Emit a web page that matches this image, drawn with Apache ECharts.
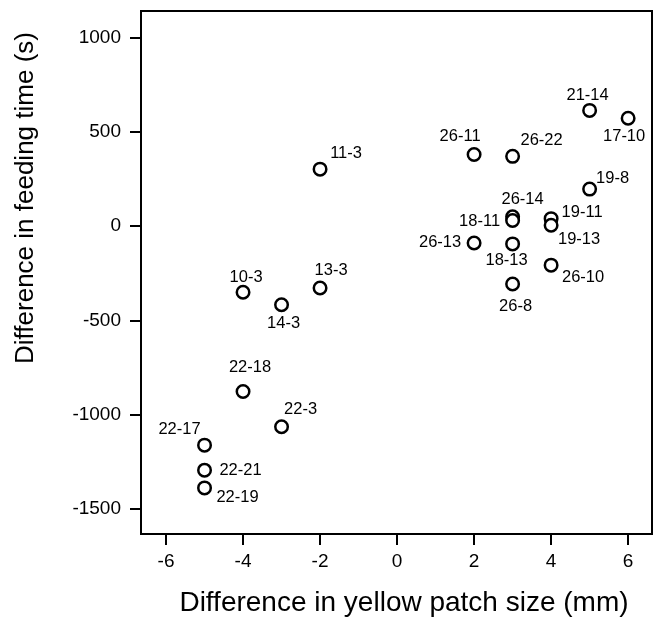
<!DOCTYPE html>
<html>
<head>
<meta charset="utf-8">
<script src="https://cdn.jsdelivr.net/npm/echarts@6/dist/echarts.min.js"></script>
<style>
    html, body { margin: 0; padding: 0; background: #fff; }
    #chart { width: 655px; height: 620px; }
</style>
</head>
<body>
<div id="chart"></div>
<script>
// data
var pairNames = ['21-14', '17-10', '26-11', '26-22', '11-3', '19-8', '26-14', '18-11', '19-11', '19-13', '26-13',
    '18-13', '26-10', '26-8', '10-3', '13-3', '14-3', '22-18', '22-3', '22-17', '22-21', '22-19'];
var patchDiff = [5, 6, 2, 3, -2, 5, 3, 3, 4, 4, 2, 3, 4, 3, -4, -2, -3, -4, -3, -5, -5, -5];
var feedDiff = [615, 573, 381, 371, 303, 197, 50, 30, 40, 5, -89, -94, -207, -307, -351, -328, -417, -878, -1065,
    -1163, -1296, -1390];
var xTicks = [-6, -4, -2, 0, 2, 4, 6];
var yTicks = [-1500, -1000, -500, 0, 500, 1000];

// where each label sits relative to its circle (px)
var labelShift = {
    '21-14': [-2, -15], '17-10': [-4, 18], '26-11': [-14, -18], '26-22': [29, -16], '11-3': [26, -16],
    '19-8': [23, -11], '26-14': [10, -17], '18-11': [-33, 1], '19-11': [31, -6], '19-13': [28, 14],
    '26-13': [-34, 0], '18-13': [-6, 17], '26-10': [32, 12], '26-8': [3, 22], '10-3': [3, -15],
    '13-3': [11, -17], '14-3': [2, 19], '22-18': [7, -24], '22-3': [19, -17], '22-17': [-25, -16],
    '22-21': [36, 0], '22-19': [33, 10]
};

var font = '"Liberation Sans", Arial, sans-serif';

var points = pairNames.map(function (n, i) {
    return {
        name: n,
        value: [patchDiff[i], feedDiff[i]],
        label: { offset: labelShift[n] }
    };
});

function plain(v) {
    return String(v);
}

var chart = echarts.init(document.getElementById('chart'));

chart.setOption({
    animation: false,
    grid: {
        left: 141, top: 11, right: 3, bottom: 86,
        show: true, borderColor: '#000', borderWidth: 2, backgroundColor: 'transparent'
    },
    xAxis: {
        type: 'value',
        min: -6.65,
        max: 6.62,
        splitLine: { show: false },
        axisLine: { onZero: false, lineStyle: { color: '#000', width: 2 } },
        axisTick: { customValues: xTicks, length: 11, lineStyle: { color: '#000', width: 2 } },
        axisLabel: {
            customValues: xTicks, formatter: plain, margin: 18, color: '#000', fontSize: 19, fontFamily: font
        }
    },
    yAxis: {
        type: 'value',
        min: -1635,
        max: 1143,
        splitLine: { show: false },
        axisLine: { onZero: false, lineStyle: { color: '#000', width: 2 } },
        axisTick: { customValues: yTicks, length: 11, lineStyle: { color: '#000', width: 2 } },
        axisLabel: {
            customValues: yTicks, formatter: plain, margin: 20, color: '#000', fontSize: 19, fontFamily: font
        }
    },
    graphic: [
        {
            type: 'text',
            x: 404, y: 603,
            style: {
                text: 'Difference in yellow patch size (mm)',
                font: '28px ' + font, fill: '#000', align: 'center', verticalAlign: 'middle'
            }
        },
        {
            type: 'text',
            x: 26, y: 198,
            rotation: Math.PI / 2,
            style: {
                text: 'Difference in feeding time (s)',
                font: '26px ' + font, fill: '#000', align: 'center', verticalAlign: 'middle'
            }
        }
    ],
    series: [
        {
            type: 'scatter',
            data: points,
            symbol: 'circle',
            symbolSize: 12.5,
            itemStyle: { color: '#fff', borderColor: '#000', borderWidth: 2.5, opacity: 1 },
            label: {
                show: true,
                position: 'inside',
                formatter: '{b}',
                color: '#000',
                fontSize: 16.5,
                fontFamily: font
            },
            emphasis: { disabled: true }
        }
    ]
});
</script>
</body>
</html>
